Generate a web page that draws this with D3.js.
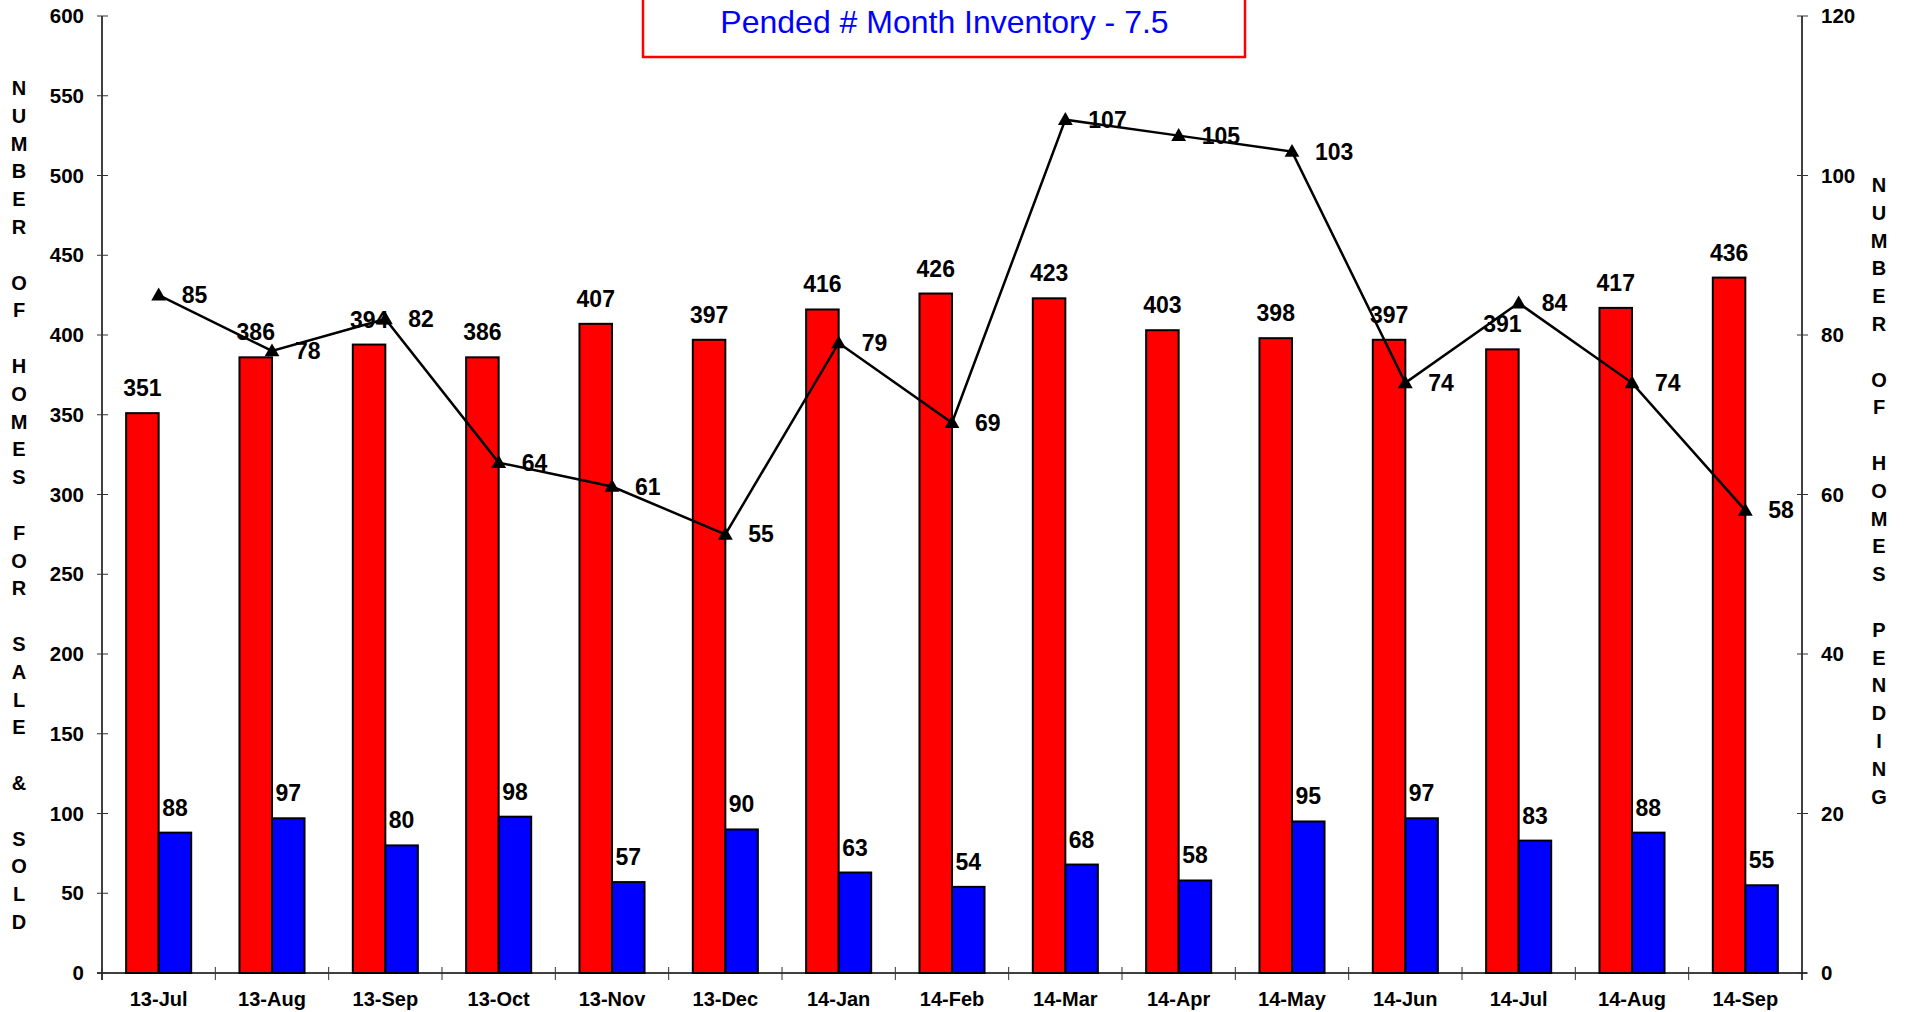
<!DOCTYPE html>
<html>
<head>
<meta charset="utf-8">
<script src="https://cdn.jsdelivr.net/npm/d3@7"></script>
<style>
  html, body { margin: 0; padding: 0; background: #fff; }
  svg { display: block; }
  text { font-family: "Liberation Sans", Arial, sans-serif; }
</style>
</head>
<body>
<svg id="chart" width="1908" height="1012"></svg>
<script>
const categories = ["13-Jul","13-Aug","13-Sep","13-Oct","13-Nov","13-Dec","14-Jan","14-Feb","14-Mar","14-Apr","14-May","14-Jun","14-Jul","14-Aug","14-Sep"];
const forSale = [351,386,394,386,407,397,416,426,423,403,398,397,391,417,436];
const sold = [88,97,80,98,57,90,63,54,68,58,95,97,83,88,55];
const pending = [85,78,82,64,61,55,79,69,107,105,103,74,84,74,58];
const leftTicks = [0,50,100,150,200,250,300,350,400,450,500,550,600];
const rightTicks = [0,20,40,60,80,100,120];
const titleText = "Pended # Month Inventory - 7.5";
const leftTitle = "NUMBER OF HOMES FOR SALE & SOLD";
const rightTitle = "NUMBER OF HOMES PENDING";

const svg = d3.select("#chart");
const L = 102, R = 1802, T = 16, B = 973;

const x = d3.scaleBand().domain(categories).range([L, R]).padding(0);
const yL = d3.scaleLinear().domain([0, 600]).range([B, T]);
const yR = d3.scaleLinear().domain([0, 120]).range([B, T]);
const bw = x.bandwidth() * 0.287;

// Title box
svg.append("rect").attr("x", 643).attr("y", -6).attr("width", 602).attr("height", 63)
  .attr("fill", "#fff").attr("stroke", "#ff0000").attr("stroke-width", 2.5);
svg.append("text").attr("x", 944.5).attr("y", 33).attr("text-anchor", "middle")
  .attr("font-size", 32).attr("fill", "#0000ff").text(titleText);

// Bars
const g = svg.append("g");
categories.forEach((c, i) => {
  const cx = x(c) + x.bandwidth() / 2;
  g.append("rect").attr("x", cx - bw).attr("y", yL(forSale[i])).attr("width", bw)
    .attr("height", yL(0) - yL(forSale[i])).attr("fill", "#ff0000")
    .attr("stroke", "#000").attr("stroke-width", 2);
  g.append("rect").attr("x", cx).attr("y", yL(sold[i])).attr("width", bw)
    .attr("height", yL(0) - yL(sold[i])).attr("fill", "#0000ff")
    .attr("stroke", "#000").attr("stroke-width", 2);
});

// Axes lines
svg.append("line").attr("x1", L).attr("x2", L).attr("y1", T).attr("y2", B + 7).attr("stroke", "#000").attr("stroke-width", 1.5);
svg.append("line").attr("x1", R).attr("x2", R).attr("y1", T).attr("y2", B + 7).attr("stroke", "#000").attr("stroke-width", 1.5);
svg.append("line").attr("x1", L - 5).attr("x2", R + 5).attr("y1", B).attr("y2", B).attr("stroke", "#000").attr("stroke-width", 1.5);

// Left ticks
leftTicks.forEach(v => {
  svg.append("line").attr("x1", L - 5).attr("x2", L + 6).attr("y1", yL(v)).attr("y2", yL(v)).attr("stroke", "#333").attr("stroke-width", 1);
  svg.append("text").attr("x", 84).attr("y", yL(v) + 7).attr("text-anchor", "end")
    .attr("font-size", 20.5).attr("font-weight", "bold").text(v);
});
// Right ticks
rightTicks.forEach(v => {
  svg.append("line").attr("x1", R - 5).attr("x2", R + 6).attr("y1", yR(v)).attr("y2", yR(v)).attr("stroke", "#333").attr("stroke-width", 1);
  svg.append("text").attr("x", 1821).attr("y", yR(v) + 7).attr("text-anchor", "start")
    .attr("font-size", 20.5).attr("font-weight", "bold").text(v);
});
// Bottom ticks at band boundaries
categories.forEach(c => {
  svg.append("line").attr("x1", x(c)).attr("x2", x(c)).attr("y1", B - 6).attr("y2", B + 7).attr("stroke", "#333").attr("stroke-width", 1);
});
// Category labels
categories.forEach(c => {
  svg.append("text").attr("x", x(c) + x.bandwidth() / 2).attr("y", 1006).attr("text-anchor", "middle")
    .attr("font-size", 20).attr("font-weight", "bold").text(c);
});

// Axis titles (stacked letters)
const step = 27.8;
leftTitle.split("").forEach((ch, i) => {
  svg.append("text").attr("x", 19).attr("y", 88 + i * step + 7).attr("text-anchor", "middle")
    .attr("font-size", 20).attr("font-weight", "bold").text(ch);
});
rightTitle.split("").forEach((ch, i) => {
  svg.append("text").attr("x", 1879).attr("y", 185 + i * step + 7).attr("text-anchor", "middle")
    .attr("font-size", 20).attr("font-weight", "bold").text(ch);
});

// Line
const line = d3.line().x((d, i) => x(categories[i]) + x.bandwidth() / 2).y(d => yR(d));
svg.append("path").datum(pending).attr("d", line).attr("fill", "none").attr("stroke", "#000").attr("stroke-width", 2.5);
const tri = d3.symbol().type(d3.symbolTriangle).size(95);
pending.forEach((v, i) => {
  const cx = x(categories[i]) + x.bandwidth() / 2;
  svg.append("path").attr("d", tri).attr("transform", `translate(${cx},${yR(v) + 1})`).attr("fill", "#000");
});

// Bar labels
categories.forEach((c, i) => {
  const cx = x(c) + x.bandwidth() / 2;
  svg.append("text").attr("x", cx - bw / 2).attr("y", yL(forSale[i]) - 17).attr("text-anchor", "middle")
    .attr("font-size", 23).attr("font-weight", "bold").text(forSale[i]);
  svg.append("text").attr("x", cx + bw / 2).attr("y", yL(sold[i]) - 17).attr("text-anchor", "middle")
    .attr("font-size", 23).attr("font-weight", "bold").text(sold[i]);
});
// Line labels
pending.forEach((v, i) => {
  const cx = x(categories[i]) + x.bandwidth() / 2;
  svg.append("text").attr("x", cx + 23).attr("y", yR(v) + 8).attr("text-anchor", "start")
    .attr("font-size", 23).attr("font-weight", "bold").text(v);
});
</script>
</body>
</html>
